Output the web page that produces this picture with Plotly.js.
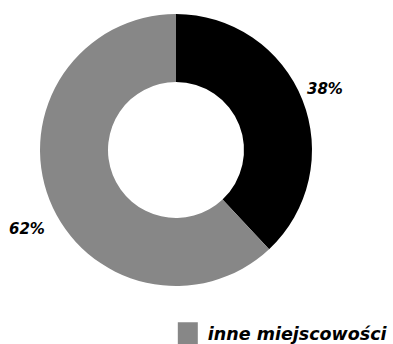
<!DOCTYPE html>
<html>
<head>
<meta charset="utf-8">
<script src="https://cdn.plot.ly/plotly-3.0.1.min.js"></script>
<style>html,body{margin:0;padding:0;background:#fff;}#chart{width:393px;height:344px;}</style>
</head>
<body>
<div id="chart"></div>
<script>
var labels = ["miasto", "inne miejscowości"];
var values = [38, 62];
var colors = ["#000000", "#878787"];
var textLabels = ["38%", "62%"];

var W = 393, H = 344;
var domX = [0.1018, 0.7939], domY = [0.1686, 0.9593];

var trace = {
  type: "pie",
  labels: labels,
  values: values,
  textinfo: "none",
  hole: 0.5,
  sort: false,
  direction: "clockwise",
  rotation: 0,
  marker: {colors: colors, line: {width: 0}},
  hoverinfo: "none",
  domain: {x: domX, y: domY}
};

// label positions derived from the slice values (mid-angle of each slice)
var cx = (domX[0] + domX[1]) / 2 * W;
var cy = (1 - (domY[0] + domY[1]) / 2) * H;
var rOuter = Math.min((domX[1] - domX[0]) * W, (domY[1] - domY[0]) * H) / 2;
var labelR = rOuter + 3;
var total = values.reduce(function (a, b) { return a + b; }, 0);
var cum = 0;
var annotations = values.map(function (v, i) {
  var mid = (cum + v / 2) / total * 2 * Math.PI;
  cum += v;
  var px = cx + labelR * Math.sin(mid);
  var py = cy - labelR * Math.cos(mid);
  var lower = Math.cos(mid) < 0;
  return {
    x: px / W, y: 1 - py / H, xref: "paper", yref: "paper",
    text: textLabels[i], showarrow: false,
    xanchor: Math.sin(mid) >= 0 ? "left" : "right",
    yanchor: lower ? "top" : "bottom",
    yshift: lower ? -17 : -1,
    font: {family: "'DejaVu Sans', sans-serif", size: 15, color: "#000", weight: "bold", style: "italic"}
  };
});

var layout = {
  width: W, height: H,
  margin: {l: 0, r: 0, t: 0, b: 0, autoexpand: false},
  paper_bgcolor: "#fff",
  showlegend: true,
  annotations: annotations,
  legend: {
    orientation: "v",
    traceorder: "reversed",
    x: 0.427, xanchor: "left",
    y: 0.083, yanchor: "top",
    font: {family: "'DejaVu Sans', sans-serif", size: 17.5, color: "#000", weight: "bold", style: "italic"},
    bgcolor: "rgba(0,0,0,0)"
  }
};

Plotly.newPlot("chart", [trace], layout, {displayModeBar: false, staticPlot: true}).then(function () {
  document.querySelectorAll("#chart .legendpoints path").forEach(function (p) {
    p.setAttribute("d", "M10,11H-10V-11H10Z");
  });
});
</script>
</body>
</html>
